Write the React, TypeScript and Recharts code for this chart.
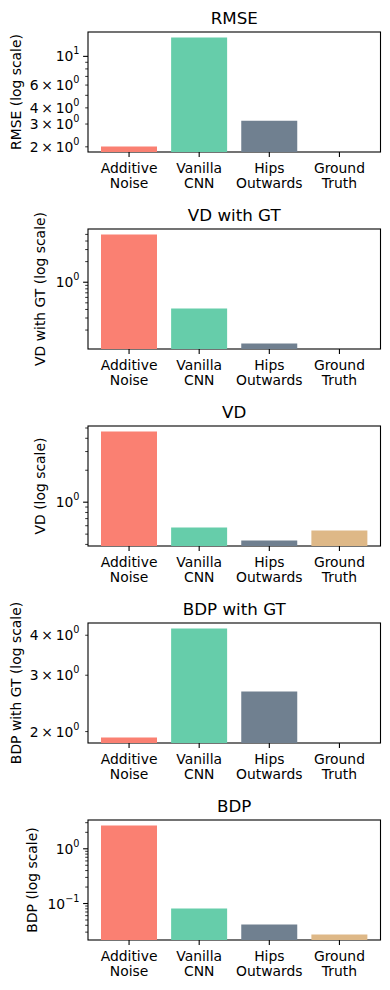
import React from 'react';
import { BarChart, Bar, XAxis, YAxis, Cell } from 'recharts';

const categories = ['Additive Noise', 'Vanilla CNN', 'Hips Outwards', 'Ground Truth'];
const barColors = ['#FA8072', '#66CDAA', '#708090', '#DEB887'];

// metric values (0 = not drawn on the log axis)
const rmse = [2.01, 14.0, 3.18, 0];
const vdWithGt = [4.99, 0.412, 0.127, 0];
const vd = [4.64, 0.577, 0.435, 0.541];
const bdpWithGt = [1.916, 4.2, 2.67, 0];
const bdp = [2.67, 0.081, 0.0413, 0.0271];

// tick values that carry a label
const rmseLabels = [2, 3, 4, 6, 10];
const vdWithGtLabels = [1];
const vdLabels = [1];
const bdpWithGtLabels = [2, 3, 4];
const bdpLabels = [0.1, 1];

const FONT = '"DejaVu Sans", sans-serif';
const LEFT = 88;
const TOP = 32;
const PLOT_W = 292.5;
const PLOT_H = 120;
const BOTTOM = TOP + PLOT_H;

function logDomain(values: number[]): [number, number] {
  const pos = values.filter((v) => v > 0);
  const a = Math.log10(Math.min(...pos));
  const b = Math.log10(Math.max(...pos));
  const m = (b - a) * 0.05;
  return [10 ** (a - m), 10 ** (b + m)];
}

function logTicks([lo, hi]: [number, number]) {
  const out: number[] = [];
  for (let e = Math.floor(Math.log10(lo)); e <= Math.ceil(Math.log10(hi)); e++) {
    for (let k = 1; k <= 9; k++) {
      const v = +(k * 10 ** e).toPrecision(6);
      if (v >= lo && v <= hi) out.push(v);
    }
  }
  return out;
}

const near = (a: number, b: number) => Math.abs(a - b) / b < 1e-6;

const YTick = ({ y, payload, labels }: any) => {
  const v = payload.value;
  const lg = Math.log10(v);
  const isMajor = Math.abs(lg - Math.round(lg)) < 1e-6;
  const len = isMajor ? 4.9 : 2.8;
  const labeled = labels.some((t: number) => near(v, t));
  const e = Math.floor(lg + 1e-6);
  const m = Math.round(v / 10 ** e);
  const exp = e < 0 ? '\u2212' + -e : String(e);
  return (
    <g>
      <line x1={LEFT - len} x2={LEFT} y1={y} y2={y} stroke="#000" strokeWidth={isMajor ? 1.1 : 0.8} />
      {labeled && (
        <text x={LEFT - 8.5} y={y + 5} textAnchor="end" fontSize={13.9} fontFamily={FONT} fill="#000">
          {m === 1 ? '10' : `${m}\u2009\u00d7\u200910`}
          <tspan dy={-7} fontSize={9.7}>{exp}</tspan>
        </text>
      )}
    </g>
  );
};

const XTick = ({ x, payload }: any) => {
  const [l1, l2] = String(payload.value).split(' ');
  return (
    <g>
      <line x1={x} x2={x} y1={BOTTOM} y2={BOTTOM + 4.9} stroke="#000" strokeWidth={1.1} />
      <text x={x} y={BOTTOM + 21} textAnchor="middle" fontSize={13.9} fontFamily={FONT} fill="#000">
        <tspan x={x}>{l1}</tspan>
        <tspan x={x} dy={15.2}>{l2}</tspan>
      </text>
    </g>
  );
};

function Panel({ title, ylabel, labelX, values, labels }: any) {
  const data = categories.map((name, i) => ({ name, value: values[i] > 0 ? values[i] : null }));
  const domain = logDomain(values);
  const ticks = logTicks(domain);
  return (
    <BarChart
      width={390}
      height={197}
      data={data}
      margin={{ top: TOP, right: 390 - LEFT - PLOT_W, bottom: 0, left: 28 }}
      barCategoryGap={0}
    >
      <XAxis
        dataKey="name"
        type="category"
        height={45}
        padding={{ left: 6, right: 6 }}
        tickLine={false}
        axisLine={false}
        tick={<XTick />}
        interval={0}
      />
      <YAxis
        type="number"
        scale="log"
        domain={domain}
        allowDataOverflow
        ticks={ticks}
        interval={0}
        width={60}
        tickLine={false}
        axisLine={false}
        tick={(p: any) => <YTick {...p} labels={labels} />}
      />
      <Bar dataKey="value" barSize={56} isAnimationActive={false}>
        {data.map((d, i) => (
          <Cell key={d.name} fill={barColors[i]} />
        ))}
      </Bar>
      <rect x={LEFT} y={TOP} width={PLOT_W} height={PLOT_H} fill="none" stroke="#000" strokeWidth={1.1} />
      <text x={LEFT + PLOT_W / 2} y={24} textAnchor="middle" fontSize={16.7} fontFamily={FONT} fill="#000">
        {title}
      </text>
      <text
        x={labelX}
        y={TOP + PLOT_H / 2}
        transform={`rotate(-90, ${labelX}, ${TOP + PLOT_H / 2})`}
        textAnchor="middle"
        dominantBaseline="central"
        fontSize={13.9}
        fontFamily={FONT}
        fill="#000"
      >
        {ylabel}
      </text>
    </BarChart>
  );
}

export default function App() {
  return (
    <div style={{ position: 'absolute', left: 0, top: 0, width: 390, height: 990, background: '#fff' }}>
      <Panel title="RMSE" ylabel="RMSE (log scale)" labelX={16} values={rmse} labels={rmseLabels} />
      <Panel title="VD with GT" ylabel="VD with GT (log scale)" labelX={40} values={vdWithGt} labels={vdWithGtLabels} />
      <Panel title="VD" ylabel="VD (log scale)" labelX={40} values={vd} labels={vdLabels} />
      <Panel title="BDP with GT" ylabel="BDP with GT (log scale)" labelX={16} values={bdpWithGt} labels={bdpWithGtLabels} />
      <Panel title="BDP" ylabel="BDP (log scale)" labelX={32} values={bdp} labels={bdpLabels} />
    </div>
  );
}
